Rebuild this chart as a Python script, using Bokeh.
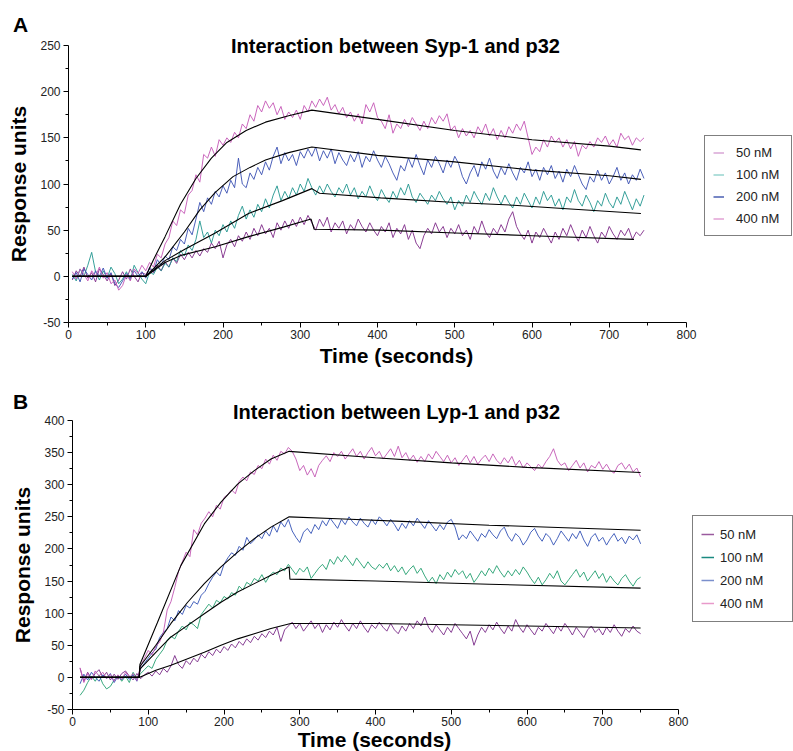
from bokeh.plotting import figure
from bokeh.models import Range1d, FixedTicker, Label, Legend, LegendItem
from bokeh.layouts import column
from bokeh.embed import file_html
from bokeh.resources import INLINE

# ---------------- Panel A data (Syp-1 / p32) ----------------
time_a = [5, 10, 15, 20, 25, 30, 35, 40, 45, 50, 55, 60, 65, 70, 75, 80, 85, 90, 95, 100,
          105, 110, 115, 120, 125, 130, 135, 140, 145, 150, 155, 160, 165, 170, 175, 180, 185, 190, 195, 200,
          205, 210, 215, 220, 225, 230, 235, 240, 245, 250, 255, 260, 265, 270, 275, 280, 285, 290, 295, 300,
          305, 310, 315, 320, 325, 330, 335, 340, 345, 350, 355, 360, 365, 370, 375, 380, 385, 390, 395, 400,
          405, 410, 415, 420, 425, 430, 435, 440, 445, 450, 455, 460, 465, 470, 475, 480, 485, 490, 495, 500,
          505, 510, 515, 520, 525, 530, 535, 540, 545, 550, 555, 560, 565, 570, 575, 580, 585, 590, 595, 600,
          605, 610, 615, 620, 625, 630, 635, 640, 645, 650, 655, 660, 665, 670, 675, 680, 685, 690, 695, 700,
          705, 710, 715, 720, 725, 730, 735, 740, 745]

a_400 = [5, -3, 8, 2, -5, 6, 0, 10, -2, 4, -8, -4, -15, -10, 2, -5, 8, 3, 12, 6,
         15, 10, 24, 20, 35, 42, 60, 55, 72, 68, 88, 93, 110, 102, 132, 128, 140, 130, 148, 142,
         150, 145, 156, 150, 165, 160, 175, 168, 185, 178, 190, 182, 188, 175, 184, 170, 178, 172, 180, 170,
         185, 178, 190, 183, 192, 185, 194, 180, 186, 176, 183, 172, 178, 168, 176, 165, 186, 178, 188, 172,
         168, 160, 175, 155, 165, 160, 170, 162, 172, 165, 158, 168, 160, 172, 165, 174, 168, 176, 158, 163,
         150, 160, 152, 158, 150, 162, 155, 165, 152, 160, 148, 158, 150, 162, 155, 165, 158, 168, 150, 132,
         140, 135, 148, 140, 152, 145, 150, 140, 148, 138, 146, 130, 142, 138, 146, 140, 150, 145, 152, 142,
         148, 140, 155, 148, 152, 142, 150, 146, 150]

a_200 = [-3, 4, -6, 8, 2, -4, 6, 0, 9, -2, 4, -8, -12, -5, 3, -2, 6, 0, 5, -2,
         10, 5, 18, 12, 22, 18, 32, 28, 40, 35, 52, 45, 62, 80, 70, 85, 78, 92, 86, 98,
         90, 104, 96, 128, 100, 96, 112, 105, 118, 110, 124, 115, 130, 140, 122, 134, 125, 132, 120, 135,
         128, 138, 130, 140, 125, 136, 128, 138, 122, 134, 126, 120, 132, 124, 135, 118, 130, 124, 136, 126,
         118, 130, 122, 112, 104, 120, 114, 128, 118, 132, 120, 110, 126, 118, 130, 122, 112, 126, 118, 130,
         122, 108, 100, 112, 120, 108, 124, 116, 128, 114, 106, 118, 110, 122, 112, 104, 118, 112, 124, 108,
         116, 104, 118, 110, 120, 106, 114, 102, 116, 108, 120, 110, 100, 94, 108, 102, 115, 104, 112, 100,
         108, 118, 104, 112, 100, 110, 104, 116, 106]

a_100 = [2, -5, 8, 0, 12, 26, 5, -4, 6, -2, 10, 3, -8, -3, 5, -4, 12, 4, -3, -8,
         5, 2, 10, 6, 14, 10, 20, 16, 28, 22, 34, 28, 40, 60, 42, 48, 36, 50, 44, 56,
         48, 60, 52, 66, 76, 62, 72, 64, 78, 70, 84, 74, 88, 98, 82, 92, 84, 96, 88, 100,
         92, 106, 96, 88, 98, 90, 100, 92, 86, 96, 90, 100, 88, 96, 84, 92, 86, 98, 88, 82,
         94, 86, 80, 92, 84, 96, 88, 100, 86, 80, 90, 84, 78, 88, 82, 92, 84, 78, 86, 72,
         82, 76, 88, 80, 92, 84, 78, 90, 82, 96, 86, 78, 88, 80, 74, 86, 78, 90, 82, 74,
         86, 78, 92, 82, 88, 76, 84, 72, 86, 80, 94, 82, 76, 88, 80, 70, 82, 76, 90, 80,
         74, 86, 78, 92, 82, 72, 84, 76, 88]

a_50 = [-4, 6, 0, 10, -2, 4, -6, 8, 2, -5, 3, -10, -4, 5, -3, 8, 0, -6, 4, 2,
        8, 4, 12, 6, 16, 10, 20, 14, 24, 18, 26, 20, 28, 22, 30, 26, 36, 30, 38, 20,
        34, 40, 32, 44, 38, 48, 40, 52, 44, 56, 46, 52, 42, 58, 50, 60, 52, 62, 54, 64,
        56, 66, 58, 50, 62, 54, 64, 48, 58, 52, 60, 46, 56, 50, 62, 54, 48, 58, 50, 44,
        54, 48, 58, 42, 52, 46, 56, 40, 50, 36, 30, 44, 52, 46, 58, 48, 54, 42, 52, 46,
        56, 44, 50, 40, 54, 46, 60, 48, 42, 52, 46, 56, 48, 62, 70, 54, 46, 40, 50, 36,
        48, 42, 52, 44, 36, 48, 40, 52, 44, 56, 46, 38, 50, 42, 54, 44, 36, 48, 42, 54,
        46, 40, 50, 44, 52, 40, 48, 44, 50]

fit_a_400_t = [5, 100, 110, 125, 145, 165, 185, 205, 230, 255, 285, 315, 400, 500, 600, 700, 741]
fit_a_400_v = [0, 0, 18, 43, 78, 106, 128, 145, 158, 167, 174, 180, 170, 158, 148, 141, 137]
fit_a_200_t = [5, 100, 125, 150, 170, 190, 213, 235, 255, 285, 315, 400, 500, 600, 700, 741]
fit_a_200_v = [0, 0, 21, 48, 72, 91, 108, 118, 126, 134, 140, 131, 124, 115, 109, 105]
fit_a_100_t = [5, 100, 125, 150, 190, 233, 277, 315, 325, 404, 500, 576, 650, 741]
fit_a_100_v = [0, 0, 17, 29, 47, 68, 82, 95, 90, 85, 80, 77, 73, 68]
fit_a_50_t = [5, 100, 125, 147, 190, 233, 277, 314, 318, 404, 500, 600, 732]
fit_a_50_v = [0, 0, 15, 23, 32, 43, 53, 62, 51, 50, 47, 44, 40]

# ---------------- Panel B data (Lyp-1 / p32) ----------------
time_b = [10, 15, 20, 25, 30, 35, 40, 45, 50, 55, 60, 65, 70, 75, 80, 85, 90, 95, 100, 105,
          110, 115, 120, 125, 130, 135, 140, 145, 150, 155, 160, 165, 170, 175, 180, 185, 190, 195, 200, 205,
          210, 215, 220, 225, 230, 235, 240, 245, 250, 255, 260, 265, 270, 275, 280, 285, 290, 295, 300, 305,
          310, 315, 320, 325, 330, 335, 340, 345, 350, 355, 360, 365, 370, 375, 380, 385, 390, 395, 400, 405,
          410, 415, 420, 425, 430, 435, 440, 445, 450, 455, 460, 465, 470, 475, 480, 485, 490, 495, 500, 505,
          510, 515, 520, 525, 530, 535, 540, 545, 550, 555, 560, 565, 570, 575, 580, 585, 590, 595, 600, 605,
          610, 615, 620, 625, 630, 635, 640, 645, 650, 655, 660, 665, 670, 675, 680, 685, 690, 695, 700, 705,
          710, 715, 720, 725, 730, 735, 740, 745, 750]

b_400 = [15, -8, 6, -4, 10, 2, 8, -2, 5, -6, 4, -3, 8, 0, 6, -5, 18, 30, 42, 35,
         48, 55, 70, 105, 118, 140, 165, 180, 195, 188, 230, 222, 240, 248, 258, 250, 268, 262, 280, 285,
         292, 286, 305, 312, 306, 320, 316, 330, 325, 340, 332, 346, 338, 352, 348, 358, 352, 340, 322, 330,
         315, 325, 312, 330, 338, 345, 336, 350, 344, 352, 340, 348, 356, 344, 352, 340, 350, 358, 345, 352,
         340, 348, 356, 344, 360, 342, 350, 338, 346, 335, 344, 336, 348, 340, 352, 344, 336, 346, 334, 342,
         330, 338, 346, 334, 344, 332, 340, 346, 336, 348, 338, 332, 342, 334, 344, 330, 338, 326, 334, 328,
         322, 332, 326, 336, 344, 356, 338, 330, 334, 322, 330, 338, 326, 334, 320, 330, 326, 336, 324, 332,
         322, 318, 330, 334, 324, 332, 320, 326, 312]

b_200 = [-10, 5, -4, 8, 0, -6, 4, -2, 6, -8, 2, -4, 5, -3, 4, -6, 14, 22, 30, 38,
         44, 62, 70, 76, 94, 88, 104, 98, 112, 108, 118, 114, 128, 134, 146, 156, 164, 158, 176, 186,
         194, 190, 204, 198, 218, 208, 214, 222, 216, 228, 220, 236, 226, 242, 234, 246, 228, 218, 210, 226,
         232, 224, 238, 230, 244, 236, 248, 240, 232, 246, 238, 250, 242, 236, 248, 240, 234, 246, 238, 250,
         244, 236, 246, 238, 228, 240, 232, 244, 236, 248, 240, 232, 244, 236, 228, 238, 230, 242, 246, 234,
         214, 222, 216, 228, 220, 212, 224, 218, 230, 222, 216, 228, 234, 220, 212, 224, 218, 206, 214, 226,
         232, 220, 212, 224, 218, 206, 216, 228, 220, 212, 224, 216, 228, 214, 204, 218, 224, 212, 218, 206,
         216, 224, 212, 218, 208, 220, 214, 222, 208]

b_100 = [-28, -20, -8, 2, -6, 4, -10, -18, -14, -4, 3, -6, 2, -8, 8, -2, 6, 12, 18, 14,
         28, 36, 44, 58, 64, 60, 72, 80, 74, 86, 82, 76, 98, 106, 114, 108, 120, 116, 126, 122,
         132, 128, 142, 136, 148, 144, 154, 150, 160, 148, 158, 164, 160, 170, 166, 176, 168, 160, 170, 164,
         172, 154, 162, 170, 176, 168, 184, 176, 188, 180, 190, 182, 174, 186, 178, 170, 180, 172, 168, 176,
         170, 178, 166, 174, 164, 172, 160, 168, 174, 162, 170, 158, 148, 156, 146, 160, 152, 164, 156, 168,
         160, 166, 154, 162, 148, 156, 166, 158, 170, 162, 174, 164, 156, 166, 158, 168, 160, 172, 164, 154,
         146, 156, 144, 152, 162, 154, 166, 150, 144, 152, 160, 168, 156, 164, 150, 158, 166, 154, 162, 148,
         158, 150, 144, 154, 160, 150, 142, 152, 156]

b_50 = [14, -6, 8, -2, 6, 12, 0, 8, -4, 5, -3, 6, 10, 2, -4, 6, -2, 4, 8, 2,
        10, 4, 14, 8, 18, 34, 20, 14, 26, 20, 30, 24, 36, 30, 40, 34, 44, 38, 48, 42,
        52, 46, 56, 50, 60, 54, 64, 58, 68, 62, 72, 66, 78, 56, 74, 80, 86, 76, 84, 72,
        80, 88, 76, 84, 70, 82, 74, 86, 78, 90, 80, 72, 84, 76, 88, 78, 70, 82, 76, 86,
        78, 72, 84, 74, 68, 80, 72, 84, 76, 88, 80, 94, 78, 70, 82, 74, 66, 78, 70, 84,
        76, 68, 60, 72, 50, 66, 78, 70, 82, 74, 86, 76, 68, 80, 72, 90, 78, 70, 82, 74,
        66, 78, 72, 84, 76, 68, 80, 72, 84, 76, 66, 78, 70, 62, 74, 80, 70, 76, 66, 78,
        70, 82, 72, 64, 76, 70, 80, 72, 68]

fit_b_400_t = [10, 88, 89, 112, 143, 174, 196, 218, 240, 262, 286, 400, 500, 600, 750]
fit_b_400_v = [0, 0, 20, 85, 174, 239, 273, 301, 322, 340, 352, 342, 334, 327, 319]
fit_b_200_t = [10, 88, 89, 110, 130, 152, 174, 196, 218, 240, 262, 286, 350, 435, 550, 650, 750]
fit_b_200_v = [0, 0, 17, 50, 84, 117, 146, 172, 195, 216, 234, 250, 247, 243, 237, 233, 229]
fit_b_100_t = [10, 88, 89, 110, 130, 152, 174, 196, 218, 240, 262, 286, 287, 400, 550, 750]
fit_b_100_v = [0, 0, 13, 39, 63, 81, 99, 117, 133, 146, 159, 172, 153, 150, 145, 139]
fit_b_50_t = [10, 88, 110, 130, 152, 174, 196, 218, 240, 262, 288, 400, 500, 600, 750]
fit_b_50_v = [0, 0, 11, 19, 29, 39, 50, 60, 68, 76, 84, 84, 82, 80, 77]

legend_labels = ["50 nM", "100 nM", "200 nM", "400 nM"]
x_ticks = [0, 100, 200, 300, 400, 500, 600, 700, 800]
x_minor = [50, 150, 250, 350, 450, 550, 650, 750]
y_ticks_a = [-50, 0, 50, 100, 150, 200, 250]
y_minor_a = [-25, 25, 75, 125, 175, 225]
y_ticks_b = [-50, 0, 50, 100, 150, 200, 250, 300, 350, 400]
y_minor_b = [-25, 25, 75, 125, 175, 225, 275, 325, 375]

FONT = "Liberation Sans"
FIG_W = 793
NAN = float("nan")


def make_panel(height, axis_px, x_lim, y_lim, y_ticks, y_minor,
               title_text, title_pos, letter, letter_pos, xlabel_pos,
               traces, fits, legend_colors, legend_style):
    # axis_px: pixel box (left, right, top, bottom) where x_lim / y_lim end
    px_l, px_r, px_t, px_b = axis_px
    sx = (px_r - px_l) / (x_lim[1] - x_lim[0])
    sy = (px_b - px_t) / (y_lim[1] - y_lim[0])
    xr = Range1d(x_lim[0] - px_l / sx, x_lim[1] + (FIG_W - px_r) / sx)
    yr = Range1d(y_lim[0] - (height - px_b) / sy, y_lim[1] + px_t / sy)

    p = figure(width=FIG_W, height=height, output_backend="svg", toolbar_location=None,
               x_range=xr, y_range=yr,
               min_border_left=0, min_border_right=0, min_border_top=0, min_border_bottom=0)
    p.outline_line_color = None
    p.xgrid.visible = False
    p.ygrid.visible = False
    p.background_fill_color = "white"
    p.border_fill_color = "white"

    p.xaxis.ticker = FixedTicker(ticks=x_ticks, minor_ticks=x_minor)
    p.yaxis.ticker = FixedTicker(ticks=y_ticks, minor_ticks=y_minor)
    p.yaxis.major_label_overrides = {-50: "-50"}
    p.xaxis.bounds = x_lim
    p.yaxis.bounds = y_lim
    p.xaxis.fixed_location = y_lim[0]
    p.yaxis.fixed_location = x_lim[0]
    for ax in (p.xaxis, p.yaxis):
        ax.axis_line_color = "black"
        ax.major_tick_line_color = "black"
        ax.minor_tick_line_color = "black"
        ax.major_tick_out = 5
        ax.major_tick_in = 0
        ax.minor_tick_out = 3
        ax.minor_tick_in = 0
        ax.major_label_text_font = FONT
        ax.major_label_text_font_size = "12px"
        ax.major_label_text_color = "#222222"
        ax.axis_label_text_font = FONT
        ax.axis_label_text_font_style = "bold"
        ax.axis_label_text_font_size = "21px"
        ax.axis_label_text_color = "black"
    p.yaxis.axis_label = "Response units"
    p.xaxis.major_label_standoff = 2
    p.yaxis.major_label_standoff = 3
    p.yaxis.axis_label_standoff = 7

    for (t, v, c) in traces:
        p.line(t, v, line_color=c, line_width=1, line_alpha=0.9)
    for (t, v) in fits:
        p.line(t, v, line_color="black", line_width=1.1)

    items = []
    for lab, c in zip(legend_labels, legend_colors):
        r = p.line([NAN], [NAN], line_color=c, line_width=1.5)
        items.append(LegendItem(label=lab, renderers=[r]))
    loc, pad, glyph_w, standoff, lab_w, item_h, spacing = legend_style
    leg = Legend(items=items, location=loc, orientation="vertical",
                 label_text_font=FONT, label_text_font_size="13px",
                 label_text_color="#222222",
                 glyph_width=glyph_w, glyph_height=item_h, label_height=item_h,
                 label_width=lab_w, label_standoff=standoff, spacing=spacing,
                 padding=pad, margin=0,
                 border_line_color="black", border_line_width=1,
                 background_fill_color="white", background_fill_alpha=1)
    p.add_layout(leg, "center")

    p.add_layout(Label(x=title_pos[0], y=height - title_pos[1], x_units="screen", y_units="screen",
                       text=title_text, text_font=FONT, text_font_style="bold",
                       text_font_size="20px", text_align="center", text_baseline="middle",
                       text_color="black"))
    p.add_layout(Label(x=letter_pos[0], y=height - letter_pos[1], x_units="screen", y_units="screen",
                       text=letter, text_font=FONT, text_font_style="bold",
                       text_font_size="21px", text_align="center", text_baseline="middle",
                       text_color="black"))
    p.add_layout(Label(x=xlabel_pos[0], y=height - xlabel_pos[1], x_units="screen", y_units="screen",
                       text="Time (seconds)", text_font=FONT, text_font_style="bold",
                       text_font_size="21px", text_align="center", text_baseline="middle",
                       text_color="black"))
    return p


H_A = 374
H_B = 377

pa = make_panel(
    H_A, (68, 686, 45, 322), (0, 800), (-50, 250), y_ticks_a, y_minor_a,
    "Interaction between Syp-1 and p32", (395, 45), "A", (20, 24), (396, 355),
    [(time_a, a_50, "#7e2a88"), (time_a, a_100, "#21968f"),
     (time_a, a_200, "#3a50b2"), (time_a, a_400, "#c457b6")],
    [(fit_a_400_t, fit_a_400_v), (fit_a_200_t, fit_a_200_v),
     (fit_a_100_t, fit_a_100_v), (fit_a_50_t, fit_a_50_v)],
    ["#d9a6d6", "#97d4cf", "#4a5fb2", "#e2a2d4"],
    ((704, H_A - 236), 8, 11, 12, 47, 17, 5))

pb = make_panel(
    H_B, (72, 678, 46, 335), (0, 800), (-50, 400), y_ticks_b, y_minor_b,
    "Interaction between Lyp-1 and p32", (396, 37), "B", (20, 27), (374, 365),
    [(time_b, b_50, "#7a2a88"), (time_b, b_100, "#23a070"),
     (time_b, b_200, "#3352b6"), (time_b, b_400, "#c256b4")],
    [(fit_b_400_t, fit_b_400_v), (fit_b_200_t, fit_b_200_v),
     (fit_b_100_t, fit_b_100_v), (fit_b_50_t, fit_b_50_v)],
    ["#9a5a9e", "#1a8a80", "#7a8fcc", "#e89acb"],
    ((692, H_B - 248), 8, 13, 6, 64, 20, 3))

layout = column(pa, pb, spacing=0)
open("out.html", "w").write(file_html(layout, INLINE))
